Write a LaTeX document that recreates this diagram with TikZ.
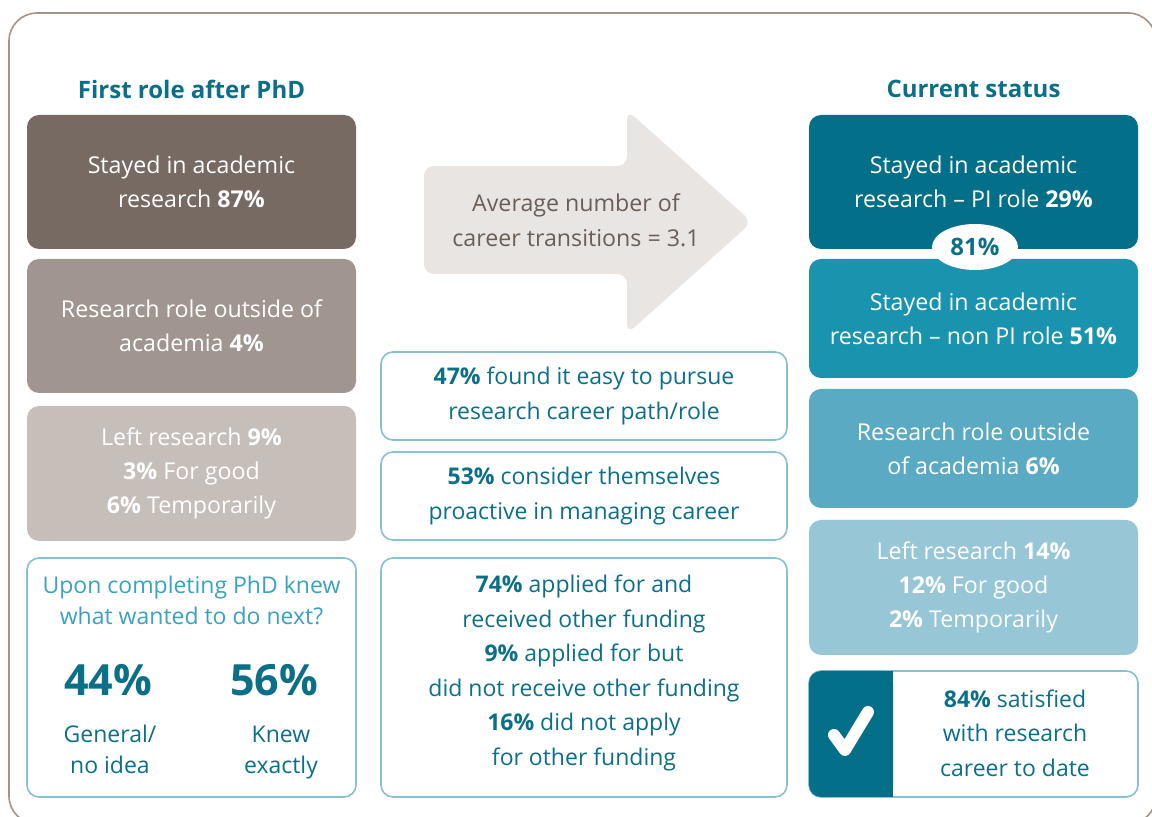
\documentclass[tikz,border=0pt]{standalone}
\usepackage{fontspec}
\setmainfont{Open Sans}
\usetikzlibrary{shapes.geometric}
\definecolor{titleteal}{HTML}{0B6F87}
\definecolor{frametaupe}{HTML}{A39485}
\definecolor{firstA}{HTML}{766A63}
\definecolor{firstB}{HTML}{A1968F}
\definecolor{firstC}{HTML}{C6BEB9}
\definecolor{nowA}{HTML}{036F89}
\definecolor{nowB}{HTML}{1A93AE}
\definecolor{nowC}{HTML}{5BAAC3}
\definecolor{nowD}{HTML}{97C6D7}
\definecolor{lineteal}{HTML}{86C0D2}
\definecolor{softteal}{HTML}{3AA2BC}
\definecolor{arrowgrey}{HTML}{E9E5E3}
\definecolor{arrowtext}{HTML}{6A5E57}
\tikzset{
  colbox/.style={rounded corners=6pt, minimum width=164.5pt, inner sep=0pt,
    text=white, align=center, font=\fontsize{11.6}{17}\selectfont},
  midbox/.style={rounded corners=6pt, minimum width=203pt, inner sep=0pt,
    draw=lineteal, line width=0.8pt, fill=white},
  heading/.style={text=titleteal, font=\fontsize{12}{14}\selectfont\bfseries},
  bignum/.style={text=titleteal, font=\fontsize{21.5}{26}\selectfont\bfseries},
  smalltxt/.style={text=titleteal, align=center, font=\fontsize{11.5}{15.5}\selectfont}
}
\begin{document}
\begin{tikzpicture}[x=0.5pt, y=-0.5pt]
	\useasboundingbox (0,0) rectangle (1152,817);
	\draw[frametaupe, line width=0.8pt, rounded corners=14pt] (9,13) rectangle (1156,824);

	% headings
	\node[heading] (firsthead) at (191.5,89) {First role after PhD};
	\node[heading] (nowhead)   at (973.5,89) {Current status};

	% first role column
	\node[colbox, fill=firstA, minimum height=67pt]   (first1) at (191.5,182)   {Stayed in academic\\research \textbf{87\%}};
	\node[colbox, fill=firstB, minimum height=67pt]   (first2) at (191.5,326)   {Research role outside of\\academia \textbf{4\%}};
	\node[colbox, fill=firstC, minimum height=67.5pt] (first3) at (191.5,473.5) {Left research \textbf{9\%}\\\textbf{3\%} For good\\\textbf{6\%} Temporarily};
	\node[colbox, fill=white, draw=lineteal, line width=0.8pt, minimum height=119.5pt] (knew) at (191.5,677.5) {};
	\node[smalltxt, text=softteal] (knewq) at (191.5,600) {Upon completing PhD knew\\what wanted to do next?};
	\node[bignum]   (knew44)  at (108,680)   {44\%};
	\node[bignum]   (knew56)  at (274,680)   {56\%};
	\node[smalltxt] (knew44t) at (110,752) {\strut General/\\no idea\strut};
	\node[smalltxt] (knew56t) at (281,752) {\strut Knew\\exactly\strut};

	% arrow in the middle
	\path[fill=arrowgrey, rounded corners=5pt] (424,166) -- (627,166) -- (627,110) -- (752,222)
		-- (627,334) -- (627,274) -- (424,274) -- cycle;
	\node[text=arrowtext, align=center, font=\fontsize{11.6}{17.5}\selectfont] (avg) at (576,220)
		{Average number of\\career transitions = 3.1};

	% middle boxes
	\node[midbox, minimum height=44pt]    (easy)      at (584,396)   {};
	\node[midbox, minimum height=44pt]    (proactive) at (584,496)   {};
	\node[midbox, minimum height=119.5pt] (funding)   at (584,677.5) {};
	\node[smalltxt, font=\fontsize{11.5}{17.2}\selectfont] (easyt)      at (584,396) {\textbf{47\%} found it easy to pursue\\research career path/role};
	\node[smalltxt, font=\fontsize{11.5}{17.2}\selectfont] (proactivet) at (584,496) {\textbf{53\%} consider themselves\\proactive in managing career};
	\node[smalltxt, font=\fontsize{11.5}{17.3}\selectfont] (fundingt)   at (584,673) {\textbf{74\%} applied for and\\received other funding\\\textbf{9\%} applied for but\\did not receive other funding\\\textbf{16\%} did not apply\\for other funding};

	% current status column
	\node[colbox, fill=nowA, minimum height=67pt]   (now1) at (973.5,182)   {Stayed in academic\\research -- PI role \textbf{29\%}};
	\node[colbox, fill=nowB, minimum height=59.5pt] (now2) at (973.5,318.5) {Stayed in academic\\research -- non PI role \textbf{51\%}};
	\node[ellipse, fill=white, minimum width=43pt, minimum height=23pt, inner sep=0pt,
		text=titleteal, font=\fontsize{12}{14}\selectfont\bfseries] (stayed) at (975,247) {81\%};
	\node[colbox, fill=nowC, minimum height=59.5pt] (now3) at (973.5,448.5) {Research role outside\\of academia \textbf{6\%}};
	\node[colbox, fill=nowD, minimum height=67.5pt] (now4) at (973.5,587.5) {Left research \textbf{14\%}\\\textbf{12\%} For good\\\textbf{2\%} Temporarily};
	\node[colbox, fill=white, draw=lineteal, line width=0.8pt, minimum height=63pt] (happy) at (973.5,734) {};
	\fill[nowA, rounded corners=6pt] (809,671) rectangle (893,797);
	\fill[nowA] (870,671) rectangle (893,797);
	\draw[white, line width=6pt, line cap=round, line join=round] (834,735) -- (845,750) -- (868,712);
	\node[smalltxt, font=\fontsize{11.5}{17.3}\selectfont] (happyt) at (1015,733) {\textbf{84\%} satisfied\\with research\\career to date};
\end{tikzpicture}
\end{document}
